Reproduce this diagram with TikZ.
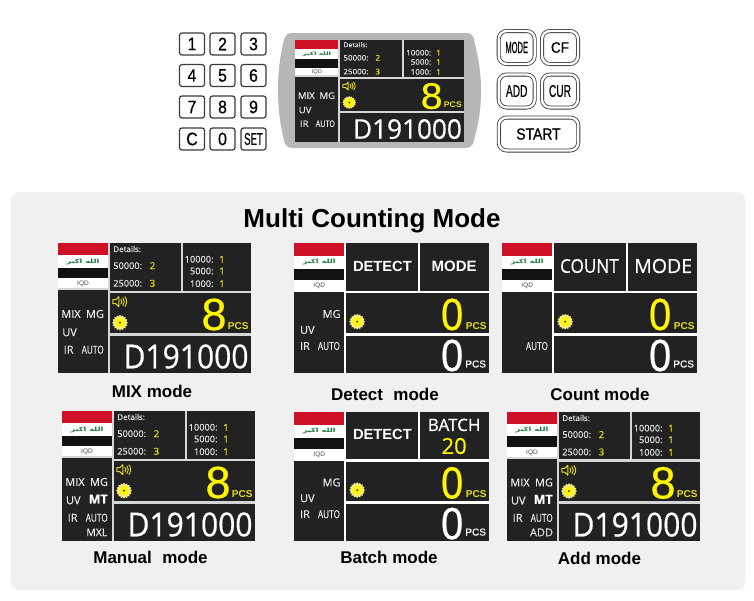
\documentclass[tikz,border=0pt]{standalone}
\usepackage{fontspec}
\usepackage{graphicx}
\usetikzlibrary{shapes.geometric}
\setmainfont{Liberation Sans}
\newfontfamily\os[RawFeature={embolden=0.5}]{Open Sans}
\newfontfamily\bigf[RawFeature={embolden=0.6}]{Liberation Sans}
\newfontfamily\keyf[RawFeature={embolden=0.6}]{Liberation Sans}
\newfontfamily\arabicfont[Script=Arabic]{DejaVu Sans}
\TeXXeTstate=1
\definecolor{scrdark}{HTML}{222222}
\definecolor{sepgrey}{HTML}{D6D6D6}
\definecolor{panelgrey}{HTML}{F0F0F0}
\definecolor{devgrey}{HTML}{B7B7B7}
\definecolor{brightyel}{HTML}{FFF500}
\definecolor{valyel}{HTML}{E9DA20}
\definecolor{flagred}{HTML}{CE1126}
\definecolor{flagblk}{HTML}{111111}
\definecolor{flaggrn}{HTML}{1A7A3C}
\definecolor{keyline}{HTML}{3A3A3A}
\tikzset{
  lbl/.style={inner sep=0pt,outer sep=0pt,xscale=\txs,yscale=\tys,font=\os},
  lblb/.style={inner sep=0pt,outer sep=0pt,xscale=\txs,yscale=\tys,font=\normalfont},
  capt/.style={inner sep=0pt,font=\bfseries\fontsize{17}{17}\selectfont,text=black},
  numkey/.style={draw=keyline,fill=white,line width=1.2pt,rounded corners=2.5pt,inner sep=0pt,text=black,font=\keyf},
  dblkey/.style={draw=keyline,double=white,double distance=2.4pt,line width=.8pt,rounded corners=8pt,fill=white,inner sep=0pt,text=black,font=\keyf},
}
% text helpers in screen units
\newcommand\TL[5]{\node[lbl,anchor=west] at (#1,#2) {\fontsize{#3}{#3}\selectfont\color{#4}#5};}
\newcommand\TR[5]{\node[lbl,anchor=east] at (#1,#2) {\fontsize{#3}{#3}\selectfont\color{#4}#5};}
\newcommand\TC[5]{\node[lbl,anchor=center] at (#1,#2) {\fontsize{#3}{#3}\selectfont\color{#4}#5};}
\newcommand\AC[5]{\node[lblb,anchor=center] at (#1,#2) {\fontsize{#3}{#3}\selectfont\color{#4}#5};}
\newcommand\AR[5]{\node[lblb,anchor=east] at (#1,#2) {\fontsize{#3}{#3}\selectfont\color{#4}#5};}
% screen frame: separator colour, flag factor
\newcommand\frameplain[2]{%
  \fill[#1] (0,0) rectangle (193,130);
  \fill[scrdark] (51.5,0) rectangle (122.5,47.5);
  \fill[scrdark] (125,0) rectangle (193,47.5);
  \fill[scrdark] (51.5,50) rectangle (193,90);
  \fill[scrdark] (51.5,92.5) rectangle (193,130);
  \fill[scrdark] (0,#2*47) rectangle (49.5,130);
  \fill[white] (0,0) rectangle (49.5,#2*45);
  \fill[flagred] (0,0) rectangle (49.5,#2*12);
  \fill[flagblk] (0,#2*24.6) rectangle (49.5,#2*35.4);
  \node[lblb] at (25,#2*18.5) {\bfseries\fontsize{5.8}{5.8}\selectfont\color{flaggrn}\scalebox{1.4}[1]{\arabicfont\bfseries\beginR الله اكبر\endR}};
  \AC{25}{#2*41}{6.5}{black!70}{IQD}
}
\newcommand\sun[2]{%
  \node[star,star points=16,star point ratio=1.25,fill=valyel!55!white,minimum size=16pt,inner sep=0pt,xscale=\txs,yscale=\tys] at (#1,#2) {};
  \fill[brightyel] (#1,#2) circle[radius=4.8pt];
  \fill[scrdark] (#1,#2) circle[radius=1pt];
}
\newcommand\speaker[2]{%
  \begin{scope}[shift={(#1,#2)}]
    \draw[valyel,line width=1pt,fill=scrdark,line join=round] (-6.5,-2) -- (-3.5,-2) -- (-.5,-5) -- (-.5,5) -- (-3.5,2) -- (-6.5,2) -- cycle;
    \draw[valyel,line width=.9pt] (1.5,-2.5) .. controls (3,-1) and (3,1) .. (1.5,2.5);
    \draw[valyel,line width=.9pt] (3.5,-4) .. controls (5.5,-1.5) and (5.5,1.5) .. (3.5,4);
    \draw[valyel,line width=.9pt] (5.5,-5) .. controls (8,-2) and (8,2) .. (5.5,5);
  \end{scope}
}
\newcommand\detailsblock{%
  \TL{55.3}{6}{8}{white!88!black}{Details:}
  \TL{55.3}{22.7}{9.2}{white!88!black}{50000:}
  \TL{55.3}{40.3}{9.2}{white!88!black}{25000:}
  \TC{94.5}{22.7}{9.6}{valyel}{2}
  \TC{94.5}{40.3}{9.6}{valyel}{3}
  \TR{155.5}{16.3}{9.2}{white!88!black}{10000:}
  \TR{155.5}{28}{9.2}{white!88!black}{5000:}
  \TR{155.5}{40.7}{9.2}{white!88!black}{1000:}
  \TC{164}{16.3}{9.6}{valyel}{1}
  \TC{164}{28}{9.6}{valyel}{1}
  \TC{164}{40.7}{9.6}{valyel}{1}
}
\newcommand\countblock{%
  \speaker{61.3}{58.7}
  \sun{62}{79.7}
  \AC{156}{71.5}{45}{brightyel}{\bigf 8}
  \AR{190.5}{82.7}{10}{valyel}{\bfseries PCS}
  \TR{190.5}{113.5}{33}{white}{\scalebox{.91}[1]{D191000}}
}
\newcommand\autolabel[1]{\TL{23.7}{#1}{11}{white!90!black}{\scalebox{.75}[1]{AUTO}}}
\newcommand\mixleft{%
  \TL{3.3}{71}{11}{white!90!black}{MIX}
  \TL{28}{71}{11}{white!90!black}{MG}
  \TL{4.3}{89.3}{11}{white!90!black}{UV}
  \TL{5.7}{106.7}{11}{white!90!black}{IR}
  \autolabel{106.7}
}
\newcommand\detectleft{%
  \TL{28.3}{71}{11}{white!90!black}{MG}
  \TL{6}{87}{11}{white!90!black}{UV}
  \TL{6}{103}{11}{white!90!black}{IR}
  \autolabel{103}
}
\newcommand\zeroblock{%
  \sun{62.5}{78.7}
  \AC{156.5}{71.5}{45}{brightyel}{\bigf\scalebox{.88}[1]{0}}
  \AR{190.5}{82.7}{10}{valyel}{\bfseries PCS}
  \AC{156.5}{112.5}{45}{white}{\bigf\scalebox{.88}[1]{0}}
  \AR{190}{121}{10}{white}{\keyf PCS}
}
\newcommand\scr[5]{%
  \pgfmathsetmacro\xs{#3/193}\pgfmathsetmacro\ys{#4/130}%
  \begin{scope}[shift={(#1,#2)},x=\xs pt,y=-\ys pt]#5\end{scope}%
}
\begin{document}
\begin{tikzpicture}[x=1pt,y=-1pt]
\def\txs{1}\def\tys{1}
\useasboundingbox (0,0) rectangle (754,600);
\fill[white] (0,0) rectangle (754,600);
% lower panel
\fill[panelgrey,rounded corners=8pt] (11,192) rectangle (745,590);
\node[inner sep=0pt,font=\bfseries\fontsize{26}{26}\selectfont] (title) at (372,221) {Multi Counting Mode};
% device body
\fill[devgrey] (291,33) -- (467,33) .. controls (473,33) and (474,38) .. (475,44)
  .. controls (480,65) and (481,78) .. (481,90) .. controls (481,104) and (480,118) .. (475,136)
  .. controls (474,143) and (472,148) .. (466,148) -- (292,148)
  .. controls (286,148) and (284,143) .. (283,136)
  .. controls (279,118) and (278,104) .. (278,90) .. controls (278,76) and (279,62) .. (283,44)
  .. controls (284,38) and (286,33) .. (291,33) -- cycle;
% device screen
\def\txs{.87}\def\tys{.82}
\scr{295}{40}{169}{102}{\frameplain{sepgrey}{1}\detailsblock\mixleft\countblock}
% lower screens
\def\txs{1}\def\tys{1}
\scr{58}{243}{193}{130}{\frameplain{sepgrey}{1}\detailsblock\mixleft\countblock}
\scr{294}{243}{195}{130}{\frameplain{white}{1.05}\detectleft\zeroblock
  \AC{87.5}{23}{14.7}{white}{\bfseries DETECT}
  \AC{158.5}{23}{15}{white}{\bfseries MODE}}
\scr{502}{243}{195}{130}{\frameplain{white}{1.05}\autolabel{103}\zeroblock
  \TC{86.5}{23}{19}{white}{\scalebox{.9}[1]{COUNT}}
  \TC{159.5}{23}{19.5}{white}{MODE}}
\scr{62}{411}{193}{130}{\frameplain{sepgrey}{1}\detailsblock\countblock
  \TL{3.3}{71}{11}{white!90!black}{MIX}
  \TL{28}{71}{11}{white!90!black}{MG}
  \TL{4}{89.3}{11}{white!90!black}{UV}
  \TL{26.7}{88}{12.5}{white}{\bfseries MT}
  \TL{5.7}{106.7}{11}{white!90!black}{IR}
  \autolabel{106.7}
  \TL{24.3}{121.3}{10.5}{white!90!black}{MXL}}
\scr{294}{412}{195}{129}{\frameplain{white}{1.05}\detectleft\zeroblock
  \AC{87.5}{22.5}{14.7}{white}{\bfseries DETECT}
  \TC{158.5}{13}{17}{white}{BATCH}
  \TC{158.5}{34.3}{22}{brightyel}{20}}
\scr{507}{412}{193}{129}{\frameplain{sepgrey}{1}\detailsblock\countblock
  \TL{3.3}{71}{11}{white!90!black}{MIX}
  \TL{28}{71}{11}{white!90!black}{MG}
  \TL{4}{89.3}{11}{white!90!black}{UV}
  \TL{26.7}{88}{12.5}{white}{\bfseries MT}
  \TL{5.7}{106.7}{11}{white!90!black}{IR}
  \autolabel{106.7}
  \TL{23}{121.3}{11}{white!85!black}{ADD}}
% captions
\node[capt] (capmix) at (152,391) {MIX mode};
\node[capt] (capdet) at (385,394) {Detect\,\, mode};
\node[capt] (capcnt) at (600,394) {Count mode};
\node[capt] (capman) at (150.5,557.5) {Manual\,\, mode};
\node[capt] (capbat) at (389,557) {Batch mode};
\node[capt] (capadd) at (599.5,558) {Add mode};
% keypad
\foreach \nm/\lab/\cx/\cy in {k1/1/192/44,k2/2/222.5/44,k3/3/253.5/44,k4/4/192/75.5,k5/5/222.5/75.5,k6/6/253.5/75.5,k7/7/192/107,k8/8/222.5/107,k9/9/253.5/107,kc/C/192/139,k0/0/222.5/139}
  \node[numkey,minimum width=25pt,minimum height=22pt] (\nm) at (\cx,\cy) {\fontsize{18}{18}\selectfont\scalebox{.88}[1]{\lab}};
\node[numkey,minimum width=25pt,minimum height=22pt] (kset) at (253.5,139) {\fontsize{17}{17}\selectfont\scalebox{.56}[1]{SET}};
% function keys
\node[dblkey,minimum width=36pt,minimum height=33pt] (kmode) at (516.7,47.5) {\fontsize{16}{16}\selectfont\scalebox{.47}[1]{MODE}};
\node[dblkey,minimum width=36pt,minimum height=33pt] (kcf) at (560,47.5) {\fontsize{15}{15}\selectfont\scalebox{.9}[1]{CF}};
\node[dblkey,minimum width=36pt,minimum height=33pt] (kadd) at (516.7,91) {\fontsize{17}{17}\selectfont\scalebox{.6}[1]{ADD}};
\node[dblkey,minimum width=36pt,minimum height=33pt] (kcur) at (560,91) {\fontsize{17}{17}\selectfont\scalebox{.6}[1]{CUR}};
\node[dblkey,minimum width=79.5pt,minimum height=33pt] (kstart) at (538.5,134) {\fontsize{16}{16}\selectfont\scalebox{.87}[1]{START}};
\end{tikzpicture}
\end{document}
